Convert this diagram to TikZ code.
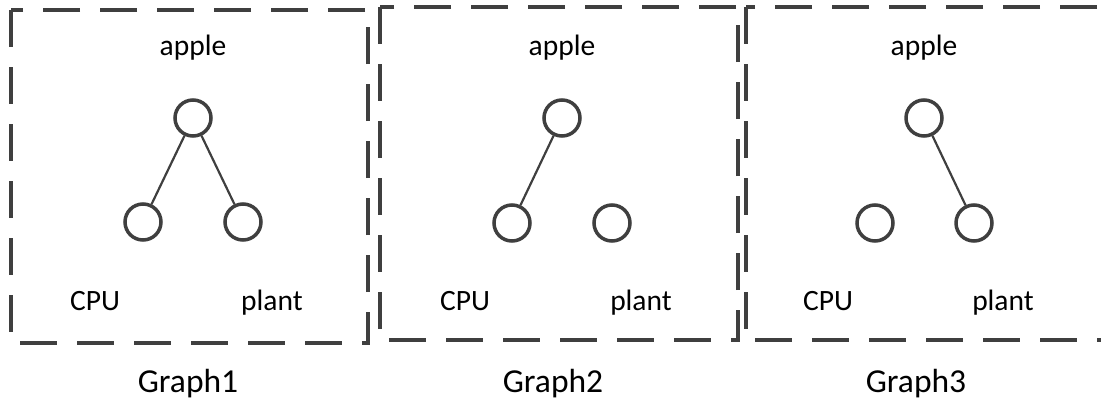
\documentclass[tikz,border=0pt]{standalone}
\usepackage{fontspec}
\setmainfont{Carlito}
\definecolor{ink}{HTML}{3F3F3F}
\tikzset{
  gbox/.style={draw=ink, line width=4pt, dash pattern=on 37pt off 20pt},
  vert/.style={circle, draw=ink, line width=3.5pt, minimum size=36pt, inner sep=0pt},
  edge/.style={draw=ink, line width=2.2pt},
  lbl/.style={font=\fontsize{29.5}{31}\selectfont, text=black, inner sep=0pt, anchor=base},
  gcaption/.style={font=\fontsize{33.5}{36}\selectfont, text=black, inner sep=0pt, anchor=base}
}
\begin{document}
\begin{tikzpicture}[x=1pt,y=-1pt]
\useasboundingbox (0,0) rectangle (1101,405);
\clip (0,0) rectangle (1101,405);
% boxes
\draw[gbox] (11,10) rectangle (368,343);
\draw[gbox] (380,7) rectangle (738,340);
\draw[gbox] (746,7) rectangle (1130,340);
% graph 1
\node[vert] (a1) at (193,118) {};
\node[vert] (c1) at (143,222) {};
\node[vert] (p1) at (243,222) {};
\draw[edge] (a1) -- (c1);
\draw[edge] (a1) -- (p1);
\node[lbl] (ta1) at (193,55) {apple};
\node[lbl] (tc1) at (95,310) {CPU};
\node[lbl] (tp1) at (272,310) {plant};
\node[gcaption] (g1) at (188,392) {Graph1};
% graph 2
\node[vert] (a2) at (562,118) {};
\node[vert] (c2) at (512,223) {};
\node[vert] (p2) at (612,223) {};
\draw[edge] (a2) -- (c2);
\node[lbl] (ta2) at (562,55) {apple};
\node[lbl] (tc2) at (465,310) {CPU};
\node[lbl] (tp2) at (641,310) {plant};
\node[gcaption] (g2) at (553,392) {Graph2};
% graph 3
\node[vert] (a3) at (924,118) {};
\node[vert] (c3) at (875,223) {};
\node[vert] (p3) at (974,223) {};
\draw[edge] (a3) -- (p3);
\node[lbl] (ta3) at (924,55) {apple};
\node[lbl] (tc3) at (828,310) {CPU};
\node[lbl] (tp3) at (1003,310) {plant};
\node[gcaption] (g3) at (916,392) {Graph3};
\end{tikzpicture}
\end{document}
